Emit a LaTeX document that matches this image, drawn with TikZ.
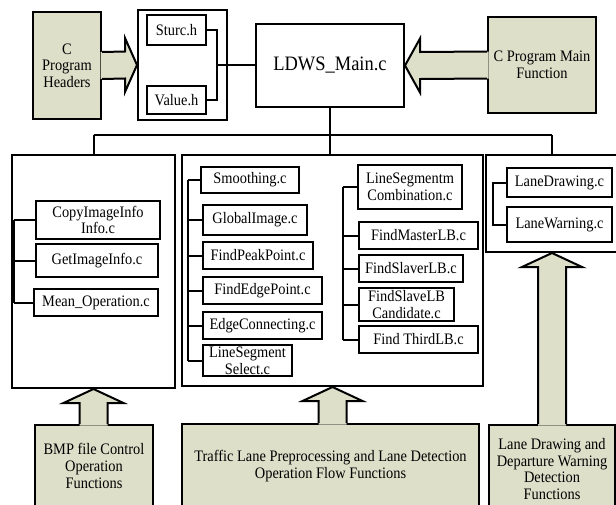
\documentclass[tikz,border=0pt]{standalone}
\usepackage{fontspec}
\setmainfont{Liberation Serif}[FakeStretch=0.9]
\usetikzlibrary{calc}
\definecolor{gfill}{RGB}{221,223,201}
\tikzset{
  sm/.style={font=\fontsize{16}{16.7}\selectfont},
  ibox/.style={draw, line width=1.3pt, fill=white, inner sep=0pt, align=center, sm},
  obox/.style={draw, line width=2pt, inner sep=0pt},
  gbox/.style={draw, line width=2pt, fill=gfill, inner sep=0pt, align=center, sm},
  conn/.style={line width=2pt},
  garrow/.style={line width=2pt, line join=miter},
}
\begin{document}
\begin{tikzpicture}[x=1pt,y=-1pt]
\useasboundingbox (0,0) rectangle (616,504);
\clip (0,0) rectangle (616,504);
% top row
\node[gbox, minimum width=68, minimum height=107] (hdr) at (67,65.5) {C\\Program\\Headers};
\node[obox, minimum width=89, minimum height=110] (hcont) at (182.5,65) {};
\node[ibox, minimum width=59, minimum height=30] (sturc) at (176.5,30) {Sturc.h};
\node[ibox, minimum width=59, minimum height=28] (value) at (176.5,100) {Value.h};
\node[obox, minimum width=148, minimum height=83, font=\fontsize{20.5}{24}\selectfont] (ldws) at (330,65.5) {LDWS\_Main.c};
\node[gbox, minimum width=108, minimum height=96] (mainf) at (542,65) {C Program Main\\Function};
% outer groups
\node[obox, minimum width=163, minimum height=233] (left) at (93.5,271.5) {};
\node[obox, minimum width=301, minimum height=231] (mid) at (332.5,270.5) {};
\node[obox, minimum width=132, minimum height=97] (right) at (552,203.5) {};
% left items
\node[ibox, minimum width=124, minimum height=38] (copy) at (98,220) {CopyImageInfo\\Info.c};
\node[ibox, minimum width=122, minimum height=33] (getimg) at (97,260.5) {GetImageInfo.c};
\node[ibox, minimum width=124, minimum height=27] (mean) at (96,302.5) {Mean\_Operation.c};
% middle items, first column
\node[ibox, minimum width=98, minimum height=26] (smooth) at (250,180) {Smoothing.c};
\node[ibox, minimum width=104, minimum height=30] (global) at (255,220) {GlobalImage.c};
\node[ibox, minimum width=110, minimum height=27] (peak) at (258,255.5) {FindPeakPoint.c};
\node[ibox, minimum width=119, minimum height=27] (edgept) at (262.5,290.5) {FindEdgePoint.c};
\node[ibox, minimum width=119, minimum height=27] (edgecon) at (262.5,325.5) {EdgeConnecting.c};
\node[ibox, minimum width=89, minimum height=31] (lsel) at (247.5,360.5) {LineSegment\\Select.c};
% middle items, second column
\node[ibox, minimum width=104, minimum height=44] (lsc) at (410,187) {LineSegmentm\\Combination.c};
\node[ibox, minimum width=119, minimum height=27] (master) at (418.5,235.5) {FindMasterLB.c};
\node[ibox, minimum width=104, minimum height=27] (slaver) at (411,268.5) {FindSlaverLB.c};
\node[ibox, minimum width=95, minimum height=33] (cand) at (406.5,304.5) {FindSlaveLB\\Candidate.c};
\node[ibox, minimum width=119, minimum height=27] (third) at (418.5,339.5) {Find ThirdLB.c};
% right items
\node[ibox, minimum width=105, minimum height=29] (ldraw) at (559.5,182.5) {LaneDrawing.c};
\node[ibox, minimum width=105, minimum height=35] (lwarn) at (559.5,224.5) {LaneWarning.c};
% bottom boxes
\node[gbox, minimum width=118, minimum height=82] (bl) at (94,466) {BMP file Control\\Operation\\Functions};
\node[gbox, minimum width=297, minimum height=84] (bm) at (330.5,466) {Traffic Lane Preprocessing and Lane Detection\\Operation Flow Functions};
\node[gbox, minimum width=126, minimum height=88] (br) at (552,469) {Lane Drawing and\\Departure Warning\\Detection\\Functions};

% header connectors
\coordinate (hj) at (217,65);
\draw[conn] (sturc.east) -| (hj) |- (value.east);
\draw[conn] (hj) -- (ldws.west |- hj);
% bus
\coordinate (bus) at (330,135);
\draw[conn] (ldws.south -| bus) -- (bus);
\draw[conn] (left.north |- bus) -- (right.north |- bus);
\draw[conn] (left.north |- bus) -- (left.north);
\draw[conn] (bus) -- (bus |- mid.north);
\draw[conn] (right.north |- bus) -- (right.north);
% left spine
\coordinate (ls) at (13.5,0);
\draw[conn] (ls |- copy.west) -- (ls |- mean.west);
\foreach \n in {copy,getimg,mean} \draw[conn] (ls |- \n.west) -- (\n.west);
% middle spine 1
\coordinate (ms1) at (188,0);
\draw[conn] (ms1 |- smooth.west) -- (ms1 |- lsel.west);
\foreach \n in {smooth,global,peak,edgept,edgecon,lsel} \draw[conn] (ms1 |- \n.west) -- (\n.west);
% middle spine 2
\coordinate (ms2) at (343,0);
\draw[conn] (ms2 |- lsc.west) -- (ms2 |- third.west);
\foreach \n in {lsc,master,slaver,cand,third} \draw[conn] (ms2 |- \n.west) -- (\n.west);
% right spine
\coordinate (rs) at (493,0);
\draw[conn] (ldraw.west) -- (rs |- ldraw.west) -- (rs |- lwarn.west) -- (lwarn.west);

% block arrows: horizontal
\fill[gfill] ($(hdr.east)+(-1.5,-13.5)$) -- ($(hcont.west)+(-12,-13.5)$) -- ($(hcont.west)+(-12,-27)$) -- (hcont.west) -- ($(hcont.west)+(-12,27)$) -- ($(hcont.west)+(-12,13.5)$) -- ($(hdr.east)+(-1.5,13.5)$) -- cycle;
\draw[garrow] ($(hdr.east)+(0,-13.5)$) -- ($(hcont.west)+(-12,-13.5)$) -- ($(hcont.west)+(-12,-27)$) -- (hcont.west) -- ($(hcont.west)+(-12,27)$) -- ($(hcont.west)+(-12,13.5)$) -- ($(hdr.east)+(0,13.5)$);
\fill[gfill] ($(mainf.west)+(1.5,-13.5)$) -- ($(ldws.east)+(15,-13.5)$) -- ($(ldws.east)+(15,-27)$) -- (ldws.east) -- ($(ldws.east)+(15,27)$) -- ($(ldws.east)+(15,13.5)$) -- ($(mainf.west)+(1.5,13.5)$) -- cycle;
\draw[garrow] ($(mainf.west)+(0,-13.5)$) -- ($(ldws.east)+(15,-13.5)$) -- ($(ldws.east)+(15,-27)$) -- (ldws.east) -- ($(ldws.east)+(15,27)$) -- ($(ldws.east)+(15,13.5)$) -- ($(mainf.west)+(0,13.5)$);
% block arrows: vertical
\foreach \b/\t in {bl/left,bm/mid,br/right}{
  \fill[gfill] ($(\t.south |- \b.north)+(-14,1.5)$) -- ($(\t.south)+(-14,14)$) -- ($(\t.south)+(-30,14)$) -- (\t.south) -- ($(\t.south)+(30,14)$) -- ($(\t.south)+(14,14)$) -- ($(\t.south |- \b.north)+(14,1.5)$) -- cycle;
  \draw[garrow] ($(\t.south |- \b.north)+(-14,0)$) -- ($(\t.south)+(-14,14)$) -- ($(\t.south)+(-30,14)$) -- (\t.south) -- ($(\t.south)+(30,14)$) -- ($(\t.south)+(14,14)$) -- ($(\t.south |- \b.north)+(14,0)$);
}
\end{tikzpicture}
\end{document}
